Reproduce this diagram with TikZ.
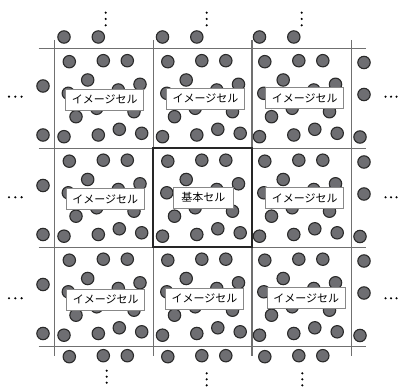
\documentclass[tikz,border=0pt]{standalone}
\usepackage{fontspec}
\newfontfamily\jpfont{Noto Sans CJK JP}
\definecolor{atomfill}{HTML}{6E6E72}
\definecolor{atomline}{HTML}{2A2A2A}
\definecolor{gridgray}{HTML}{707070}
\definecolor{boxgray}{HTML}{888888}
\tikzset{
  atom/.style={fill=atomfill, draw=atomline, line width=1.1pt},
  gridline/.style={draw=gridgray, line width=1.2pt},
  basecell/.style={draw=black!85, line width=2pt},
  cellbox/.style={draw=boxgray, line width=0.9pt, fill=white,
    font=\jpfont\fontsize{11}{11}\selectfont, minimum height=21pt,
    inner xsep=6pt, inner ysep=0pt},
  ellip/.style={fill=black}
}
\begin{document}
\begin{tikzpicture}[x=1pt,y=-1pt]
\useasboundingbox (0,0) rectangle (399,387);
% grid
\foreach \gx in {54.3,153.3,252,351.3} \draw[gridline] (\gx,40) -- (\gx,356);
\foreach \gy in {48.3,148.3,247.3,346.3} \draw[gridline] (38.5,\gy) -- (366,\gy);
% atoms inside the nine cells
\foreach \cx in {54.5,153,250} {
  \foreach \cy in {48.5,148,247} {
    \foreach \ax/\ay in {14.8/13.2, 48.8/12.2, 72.8/12.2, 33.2/31.5, 85.5/35.8,
        13.8/44.8, 63.8/41.5, 42.2/59.8, 21.5/68.2, 79.5/63.2,
        9.5/88.2, 43.8/86.5, 64.8/80.8, 87.2/84.8} {
      \draw[atom] (\cx+\ax,\cy+\ay) circle[radius=6.2pt];
    }
  }
}
% atoms outside: above
\foreach \cx in {54.5,153,250} {
  \foreach \ax in {9.5,43.8} \draw[atom] (\cx+\ax,37) circle[radius=6.2pt];
}
% below
\foreach \cx in {54.5,153,250} {
  \foreach \ax/\ay in {14.8/13.2, 48.8/12.2, 72.8/12.2} \draw[atom] (\cx+\ax,343.5+\ay) circle[radius=6.2pt];
}
% left
\foreach \cy in {48.5,148,247} {
  \draw[atom] (43,\cy+37.5) circle[radius=6.2pt];
  \draw[atom] (43,\cy+86.5) circle[radius=6.2pt];
}
% right
\foreach \cy in {48.5,148,247} {
  \draw[atom] (364,\cy+14) circle[radius=6.2pt];
  \draw[atom] (364,\cy+46) circle[radius=6.2pt];
  \draw[atom] (360,\cy+88.5) circle[radius=6.2pt];
}
% base cell border
\draw[basecell] (153.3,148.3) rectangle (252,247.3);
% labels
\node[cellbox] (l11) at (104.8,99.5) {イメージセル};
\node[cellbox] (l12) at (205.5,98.5) {イメージセル};
\node[cellbox] (l13) at (304.8,98.3) {イメージセル};
\node[cellbox] (l21) at (105.3,199) {イメージセル};
\node[cellbox, inner xsep=8pt] (l22) at (203.3,197.5) {基本セル};
\node[cellbox] (l23) at (304.8,198) {イメージセル};
\node[cellbox] (l31) at (105.8,299.5) {イメージセル};
\node[cellbox] (l32) at (204.5,298.8) {イメージセル};
\node[cellbox] (l33) at (306.2,298.3) {イメージセル};
% horizontal ellipses
\foreach \ey in {96.7,197.3,298.3} {
  \foreach \ex in {9,15.3,21.6} \fill[ellip] (\ex,\ey) circle[radius=1.2pt];
  \foreach \ex in {385.5,391,396.5} \fill[ellip] (\ex,\ey) circle[radius=1.2pt];
}
% vertical ellipses
\foreach \ex in {105.7,206.7,301.7} {
  \foreach \ey in {12.7,19,25.3} \fill[ellip] (\ex,\ey) circle[radius=1.2pt];
}
\foreach \ex/\ey in {106.7/370.7,206.7/373.3,302.3/373.3} {
  \foreach \dy in {0,6,12} \fill[ellip] (\ex,\ey+\dy) circle[radius=1.2pt];
}
\end{tikzpicture}
\end{document}
